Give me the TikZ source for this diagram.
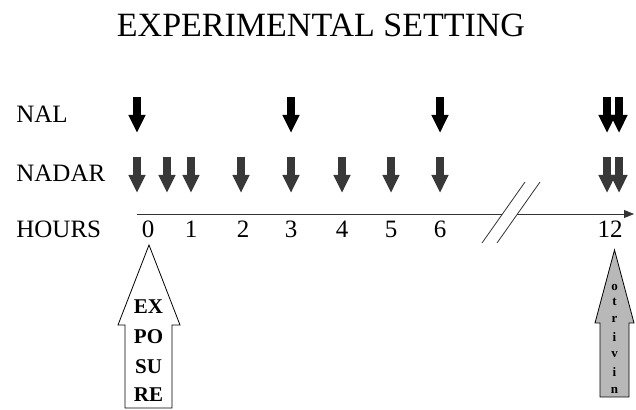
\documentclass[tikz,border=0pt]{standalone}
\usepackage{fontspec}
\setmainfont{Liberation Serif}
\usetikzlibrary{arrows.meta}
\definecolor{dosegray}{gray}{0.22}
\definecolor{sprayfill}{gray}{0.72}

\begin{document}
\begin{tikzpicture}[x=0.5pt,y=-0.5pt,
    dose/.style={line width=3.8pt,-{Triangle[width=8pt,length=9pt]}},
    lab/.style={font=\fontsize{12.5}{14}\selectfont,inner sep=0pt},
    boxtxt/.style={font=\fontsize{10.5}{11}\selectfont\bfseries,inner sep=0pt},
    spraytxt/.style={font=\fontsize{6.5}{7}\selectfont\bfseries,inner sep=0pt}]
    \useasboundingbox (0,0) rectangle (636,410);
    \def\yaxis{214}
    \node[font=\fontsize{17}{20}\selectfont] (title) at (321,25) {EXPERIMENTAL SETTING};
    \node[lab,anchor=base west] (nal) at (16,123) {NAL};
    \node[lab,anchor=base west] (nadar) at (16,182) {NADAR};
    \node[lab,anchor=base west] (hours) at (16,238) {HOURS};
    \foreach \x/\h in {148/0,191/1,243/2,291/3,342/4,391/5,440/6,610/12}
      \node[lab,anchor=base] (h\h) at (\x,238) {\h};
    \coordinate (t0) at (137,\yaxis);
    \coordinate (b1) at (502,\yaxis);
    \coordinate (b2) at (517,\yaxis);
    \coordinate (tend) at (634,\yaxis);
    \draw[thin,black!80] (t0) -- (b1);
    \draw[thin,black!80,-{Triangle[length=5pt,width=4pt]}] (b2) -- (tend);
    \draw[thin,black!80] (482,243) -- (525,182);
    \draw[thin,black!80] (497,243) -- (540,182);
    \foreach \x in {137,291,440,607,619}
      \draw[dose] (\x,97) -- (\x,133);
    \foreach \x in {137,167,191,241,291,342,391,440,607,619}
      \draw[dose,dosegray] (\x,157) -- (\x,193);
    \draw[thin,fill=white] (125,408) -- (125,325) -- (118,325) -- (149,245)
      -- (180,325) -- (172,325) -- (172,408) -- cycle;
    \node[boxtxt] (ex) at (148.5,307) {EX};
    \node[boxtxt] (po) at (148.5,337) {PO};
    \node[boxtxt] (su) at (148.5,367) {SU};
    \node[boxtxt] (re) at (148.5,395) {RE};
    \draw[thin,fill=sprayfill] (600,397) -- (600,323) -- (595,323) -- (614.5,250)
      -- (634,323) -- (629,323) -- (629,397) -- cycle;
    \foreach \y/\c [count=\i] in {288/o,302/t,319/r,337/i,355/v,372/i,390/n}
      \node[spraytxt] (s\i) at (614.5,\y) {\c};
  \end{tikzpicture}
\end{document}
